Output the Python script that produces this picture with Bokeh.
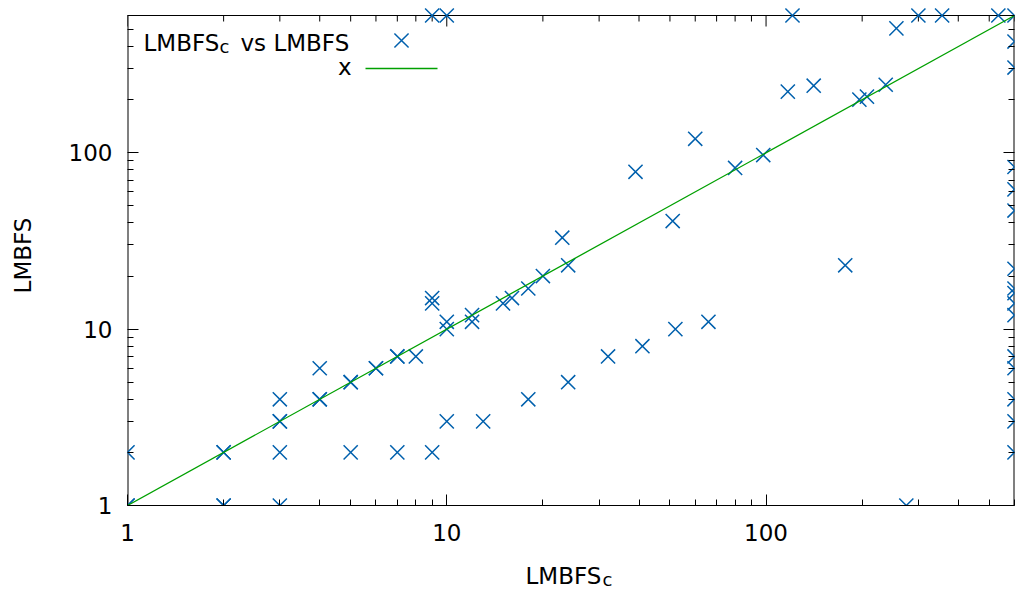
from bokeh.plotting import figure
from bokeh.layouts import column
from bokeh.models import FixedTicker, PrintfTickFormatter, LogAxis, Label, Range1d
from bokeh.embed import file_html
from bokeh.resources import INLINE
import math

# LMBFS_c (x) against LMBFS (y); 600 marks a run that hit the limit
lmbfs_c = [1, 1, 1, 2, 2, 2, 2, 3, 3, 3, 3, 3, 4, 4, 4, 5, 5, 5, 6, 6, 7, 7, 7, 8,
           9, 9, 9, 9, 10, 10, 10, 10, 12, 12, 13, 15, 16, 18, 20,
           18, 24, 32, 41, 52, 66, 23, 24, 39, 51, 60, 80, 98,
           117, 141, 196, 207, 237, 177, 121, 256, 300, 356, 534, 600, 275,
           600, 600, 600, 600, 600, 600, 600, 600, 600, 600, 600, 600, 600, 600, 600]
lmbfs = [1, 1, 2, 2, 2, 1, 1, 1, 2, 3, 3, 4, 4, 4, 6, 5, 5, 2, 6, 6, 7, 7, 2, 7,
         2, 14, 15, 600, 600, 10, 11, 3, 11, 12, 3, 14, 15, 17, 20,
         4, 5, 7, 8, 10, 11, 33, 23, 78, 41, 120, 82, 97,
         222, 240, 200, 208, 243, 23, 600, 507, 600, 600, 600, 600, 1,
         427, 304, 83, 62, 47, 22, 17, 16, 14, 12, 7, 6, 4, 3, 2]

# reference line y = x
ref_x = [1, 600]
ref_y = [1, 600]

axis_lo, axis_hi = 1, 600
major_ticks = [1, 10, 100]
minor_ticks = [2, 3, 4, 5, 6, 7, 8, 9, 20, 30, 40, 50, 60, 70, 80, 90,
               200, 300, 400, 500, 600]

W = 1017
H_MAIN, H_STRIP = 560, 32
BL, BR, BB = 127, 3, 55
BORDER_TOP = 15      # page y of the plot's top border
HEADROOM = 10        # room above the border so markers on it stay whole
FONT = "DejaVu Sans"
FS = "23px"
SUB = "18px"
BLUE = "#0060ad"
GREEN = "#00a000"
BASE_SHIFT = 8  # alphabetic baseline correction, px
MAJOR_LEN, MINOR_LEN = 11, 6

span = math.log10(axis_hi / axis_lo)
fw = W - BL - BR
box_h = H_MAIN - BB - BORDER_TOP
dec_x = fw / span
dec_y = box_h / span
y_top = axis_hi * 10 ** (HEADROOM / dec_y)

p = figure(width=W, height=H_MAIN, x_axis_type="log", y_axis_type="log",
           x_range=Range1d(axis_lo, axis_hi), y_range=Range1d(axis_lo, y_top),
           output_backend="svg", toolbar_location=None,
           min_border_left=BL, min_border_right=BR,
           min_border_top=BORDER_TOP - HEADROOM, min_border_bottom=BB)
p.background_fill_color = "white"
p.border_fill_color = "white"
p.outline_line_color = None
p.xgrid.visible = False
p.ygrid.visible = False


def xv(px):
    # page x -> data x
    return axis_lo * 10 ** ((px - BL) / dec_x)


def yv(py):
    # page y -> data y
    return axis_lo * 10 ** ((H_MAIN - BB - py) / dec_y)


def style_axis(ax, show_labels):
    ax.ticker = FixedTicker(ticks=major_ticks, minor_ticks=minor_ticks)
    ax.formatter = PrintfTickFormatter(format="%d")
    ax.axis_line_color = "black"
    ax.major_tick_line_color = "black"
    ax.minor_tick_line_color = "black"
    ax.major_tick_in = MAJOR_LEN
    ax.major_tick_out = 0
    ax.minor_tick_in = MINOR_LEN
    ax.minor_tick_out = 0
    ax.major_label_text_font = FONT
    ax.major_label_text_color = "black"
    if show_labels:
        ax.major_label_text_font_size = FS
    else:
        ax.major_label_overrides = {t: "" for t in major_ticks}
        ax.major_label_text_font_size = "1px"
        ax.major_label_standoff = 0


style_axis(p.xaxis[0], True)
style_axis(p.yaxis[0], True)
p.yaxis[0].axis_line_color = None
p.xaxis[0].major_label_standoff = 18
p.yaxis[0].major_label_standoff = 15
p.yaxis[0].axis_label = "LMBFS"
p.yaxis[0].axis_label_text_font = FONT
p.yaxis[0].axis_label_text_font_size = FS
p.yaxis[0].axis_label_text_font_style = "normal"
p.yaxis[0].axis_label_text_color = "black"
p.yaxis[0].axis_label_standoff = 30

right = LogAxis()
style_axis(right, False)
right.axis_line_color = None
p.add_layout(right, "right")

# border: left, right and top sides
p.segment(x0=[axis_lo, axis_hi, axis_lo], y0=[axis_lo, axis_lo, axis_hi],
          x1=[axis_lo, axis_hi, axis_hi], y1=[axis_hi, axis_hi, axis_hi],
          line_color="black", line_width=[2, 2, 1])

# inward ticks hanging from the top side
p.segment(x0=major_ticks, y0=[axis_hi] * len(major_ticks),
          x1=major_ticks, y1=[axis_hi / 10 ** (MAJOR_LEN / dec_y)] * len(major_ticks),
          line_color="black", line_width=1)
p.segment(x0=minor_ticks, y0=[axis_hi] * len(minor_ticks),
          x1=minor_ticks, y1=[axis_hi / 10 ** (MINOR_LEN / dec_y)] * len(minor_ticks),
          line_color="black", line_width=1)

# data and y = x
p.scatter(lmbfs_c, lmbfs, marker="x", size=20, line_color=BLUE, line_width=1.5)
p.line(ref_x, ref_y, line_color=GREEN, line_width=1.3)


def text(fig, x, y, s, size=FS, align="left"):
    fig.add_layout(Label(x=x, y=y, text=s, text_font=FONT,
                         text_font_size=size, text_color="black",
                         text_align=align, text_baseline="alphabetic"))


def key_text(px, py, s, size=FS, align="left"):
    text(p, xv(px), yv(py - BASE_SHIFT), s, size, align)


# key, text to the left of each sample
key_text(143, 50, "LMBFS")
key_text(219, 54, "c", size=SUB)
key_text(240, 50, "vs LMBFS")
key_text(351, 74, "x", align="right")
p.scatter([xv(401)], [yv(40)], marker="x", size=20, line_color=BLUE, line_width=1.5)
p.line([xv(365), xv(437)], [yv(68), yv(68)], line_color=GREEN, line_width=1.3)

# strip under the plot holding the x-axis title with its subscript;
# its frame spans the same page columns as the plot, with x in page pixels
strip = figure(width=W, height=H_STRIP, x_range=Range1d(BL, W - BR), y_range=Range1d(0, H_STRIP),
               output_backend="svg", toolbar_location=None,
               min_border_left=BL, min_border_right=BR, min_border_top=0, min_border_bottom=0)
strip.axis.visible = False
strip.xgrid.visible = False
strip.ygrid.visible = False
strip.outline_line_color = None
strip.background_fill_color = "white"
strip.border_fill_color = "white"


def strip_text(px, py, s, size=FS):
    # py is measured from the top of the whole page
    text(strip, px, H_MAIN + H_STRIP - (py - BASE_SHIFT), s, size)


strip_text(525, 583, "LMBFS")
strip_text(602, 587, "c", size=SUB)

page = column(p, strip, spacing=0)
open("out.html", "w").write(file_html(page, INLINE))
